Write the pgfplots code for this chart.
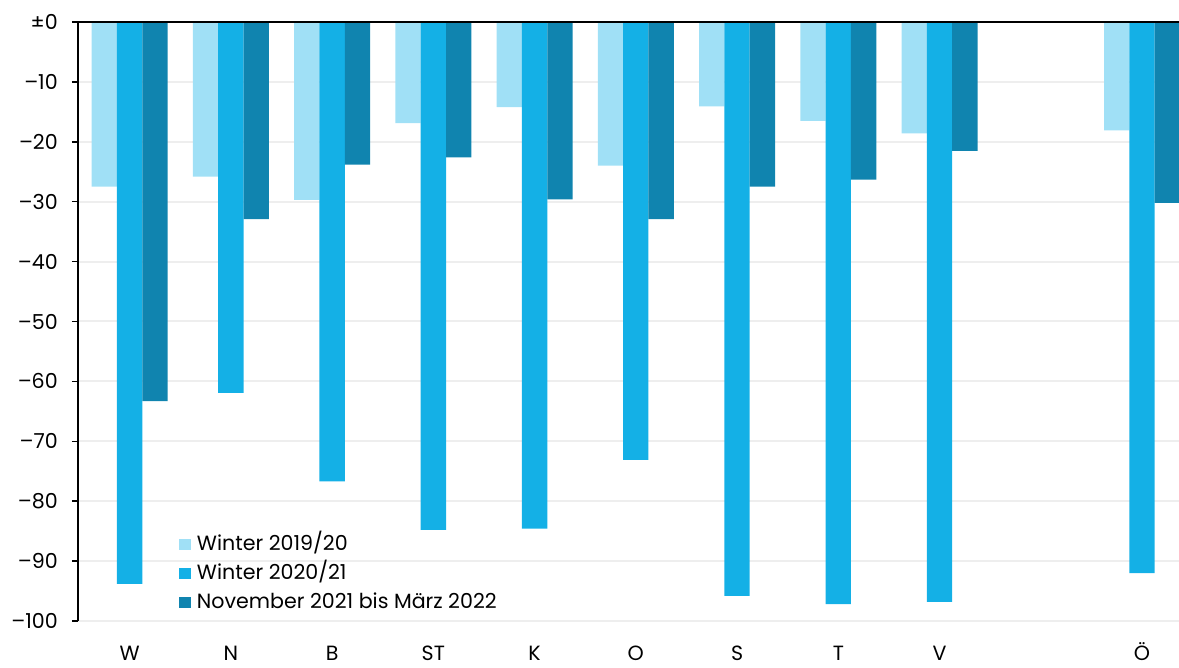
\documentclass[border=0pt]{standalone}
\usepackage{pgfplots}
\pgfplotsset{compat=1.18}
\usetikzlibrary{calc}
\usepackage{fontspec}
\setmainfont{Poppins}
\definecolor{cLight}{RGB}{160,224,246}
\definecolor{cMid}{RGB}{20,176,230}
\definecolor{cDark}{RGB}{16,132,175}
\definecolor{cGrid}{RGB}{238,238,238}
\newcommand{\cf}{\fontsize{10.3}{12}\selectfont}
\begin{document}
\cf
\begin{tikzpicture}
\begin{axis}[
  scale only axis, width=550.5pt, height=299.5pt,
  xmin=-0.51, xmax=10.365, ymin=-100, ymax=0,
  ybar=0pt, bar width=0.25,
  axis y line*=left, axis x line*=bottom,
  x axis line style={draw=none},
  y axis line style={black, line width=0.75pt},
  ytick={-100,-90,...,0},
  yticklabels={–100,–90,–80,–70,–60,–50,–40,–30,–20,–10,±0},
  xtick={0,1,2,3,4,5,6,7,8,10},
  xticklabels={W,N,B,ST,K,O,S,T,V,Ö},
  x tick style={draw=none},
  y tick style={black, line width=0.75pt},
  tick align=outside, major tick length=3pt,
  ymajorgrids, grid style={cGrid, line width=1pt},
  xticklabel style={anchor=base, inner sep=0pt, text depth=0pt, yshift=-17pt, font=\cf},
  yticklabel style={xshift=-3.5pt, font=\cf},
  legend cell align=left,
  legend image code/.code={\fill[#1] (0pt,-2.9pt) rectangle (5.8pt,2.9pt);},
  legend style={at={(0.0917,0.1528)}, anchor=north west, draw=none, fill=none,
    inner sep=0pt, row sep=0pt, font=\cf,
    nodes={text height=8pt, text depth=2pt, inner ysep=2.25pt},
    /tikz/every odd column/.append style={column sep=1pt}},
]
\addplot[fill=cLight, draw=none] coordinates {
 (0,-27.5) (1,-25.8) (2,-29.7) (3,-16.9) (4,-14.2) (5,-24.0) (6,-14.1) (7,-16.5) (8,-18.6) (10,-18.1)};
\addplot[fill=cMid, draw=none] coordinates {
 (0,-93.8) (1,-61.9) (2,-76.7) (3,-84.8) (4,-84.6) (5,-73.1) (6,-95.8) (7,-97.2) (8,-96.8) (10,-92.0)};
\addplot[fill=cDark, draw=none] coordinates {
 (0,-63.3) (1,-32.9) (2,-23.8) (3,-22.6) (4,-29.6) (5,-32.9) (6,-27.5) (7,-26.3) (8,-21.5) (10,-30.2)};
\legend{Winter 2019/20, Winter 2020/21, November 2021 bis März 2022}
\draw[black, line width=0.75pt] (rel axis cs:0,1) -- (rel axis cs:1,1);
\end{axis}
\pgfresetboundingbox
\path ($(current axis.south west)+(-39pt,-23.5pt)$) rectangle ($(current axis.north east)+(0pt,11pt)$);
\end{tikzpicture}
\end{document}
